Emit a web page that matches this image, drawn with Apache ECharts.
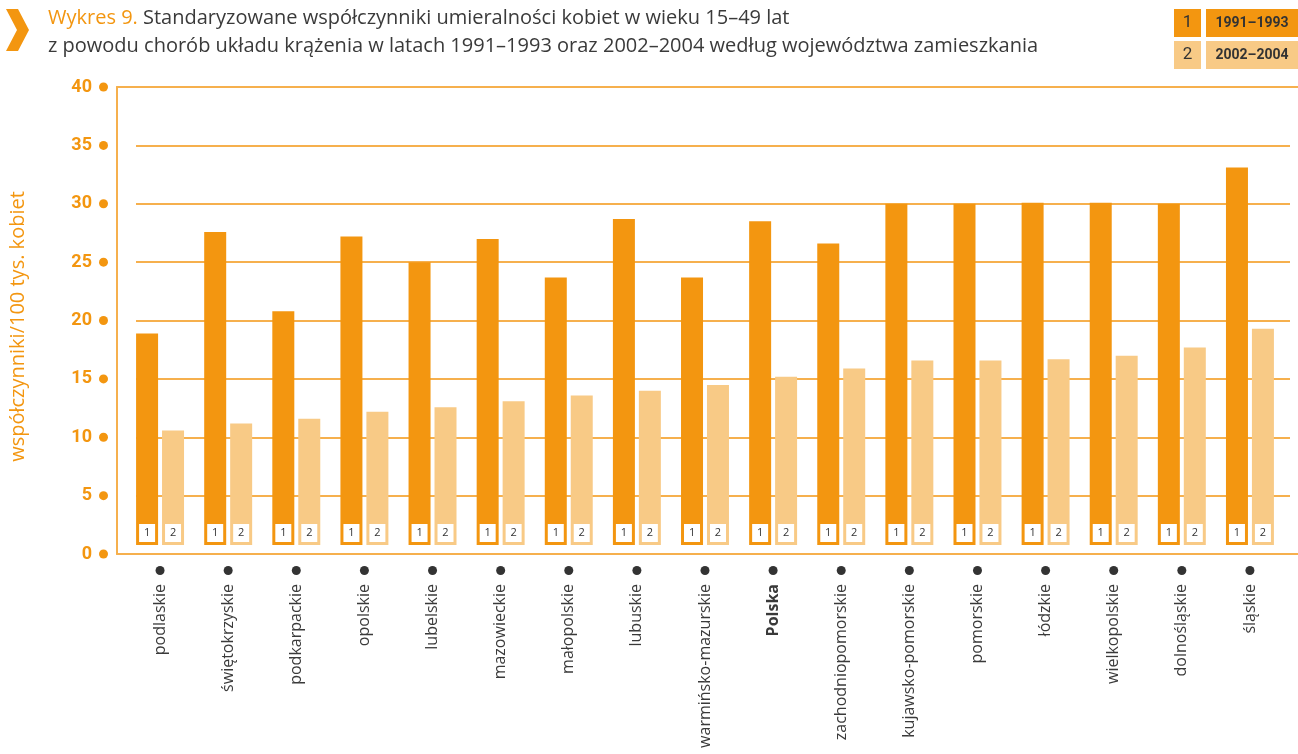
<!DOCTYPE html>
<html>
<head>
<meta charset="utf-8">
<script src="https://cdn.jsdelivr.net/npm/echarts@6/dist/echarts.min.js"></script>
<style>
  html, body { margin: 0; padding: 0; background: #fff; }
  #chart { width: 1298px; height: 754px; }
</style>
</head>
<body>
<div id="chart"></div>
<script>
// dane
const categories = ['podlaskie', 'świętokrzyskie', 'podkarpackie', 'opolskie', 'lubelskie', 'mazowieckie',
    'małopolskie', 'lubuskie', 'warmińsko-mazurskie', 'Polska', 'zachodniopomorskie', 'kujawsko-pomorskie',
    'pomorskie', 'łódzkie', 'wielkopolskie', 'dolnośląskie', 'śląskie'];
const values1991 = [18.9, 27.6, 20.8, 27.2, 25.0, 27.0, 23.7, 28.7, 23.7, 28.5, 26.6, 30.0, 30.0, 30.1, 30.1, 30.0, 33.1];
const values2002 = [10.6, 11.2, 11.6, 12.2, 12.6, 13.1, 13.6, 14.0, 14.5, 15.2, 15.9, 16.6, 16.6, 16.7, 17.0, 17.7, 19.3];
const seriesNames = ['1991–1993', '2002–2004'];
const barTags = ['1', '2'];

const orange = '#f39610';
const lightOrange = '#f8ca86';
const lineOrange = '#f6b04d';
const textDark = '#3a3a3a';

const chart = echarts.init(document.getElementById('chart'));

const tagLabel = (txt) => ({
    show: true,
    position: 'insideBottom',
    distance: 3,
    formatter: txt,
    backgroundColor: '#fff',
    width: 16,
    height: 18,
    lineHeight: 18,
    align: 'center',
    fontSize: 11,
    fontFamily: 'Open Sans',
    color: '#333'
});

const legendRich = {
    a1: { width: 27, height: 28, lineHeight: 28, align: 'center', backgroundColor: orange, color: '#333', fontSize: 17, fontFamily: 'Roboto' },
    b1: { width: 92, height: 28, lineHeight: 28, align: 'center', backgroundColor: orange, color: '#333', fontSize: 14, fontWeight: 'bold', fontFamily: 'Roboto' },
    a2: { width: 27, height: 28, lineHeight: 28, align: 'center', backgroundColor: lightOrange, color: '#333', fontSize: 17, fontFamily: 'Roboto' },
    b2: { width: 92, height: 28, lineHeight: 28, align: 'center', backgroundColor: lightOrange, color: '#333', fontSize: 14, fontWeight: 'bold', fontFamily: 'Roboto' },
    s: { width: 5, height: 28 }
};

const option = {
    animation: false,
    title: {
        left: 48,
        top: 4,
        padding: 0,
        text: '{o|Wykres 9.} Standaryzowane współczynniki umieralności kobiet w wieku 15–49 lat\n' +
            'z powodu chorób układu krążenia w latach 1991–1993 oraz 2002–2004 według województwa zamieszkania',
        textStyle: {
            fontFamily: 'Open Sans',
            fontSize: 20,
            fontWeight: 'normal',
            color: textDark,
            lineHeight: 28,
            rich: {
                o: { fontFamily: 'Open Sans', fontSize: 20, color: orange, lineHeight: 28 }
            }
        }
    },
    graphic: [
        {
            type: 'polygon',
            shape: { points: [[6, 9], [18, 9], [29, 30], [18, 51], [6, 51], [17, 30]] },
            style: { fill: orange }
        }
    ],
    legend: {
        orient: 'vertical',
        right: 0,
        top: 9,
        padding: 0,
        itemGap: 4,
        itemWidth: 0,
        itemHeight: 0,
        icon: 'rect',
        selectedMode: false,
        data: seriesNames,
        formatter: (name) => name === seriesNames[0]
            ? '{a1|' + barTags[0] + '}{s|}{b1|' + name + '}'
            : '{a2|' + barTags[1] + '}{s|}{b2|' + name + '}',
        textStyle: { rich: legendRich }
    },
    grid: [
        { left: 117, right: 0, top: 87, bottom: 200 },   // ramka
        { left: 136, right: 8, top: 87, bottom: 200 },   // linie siatki
        { left: 126, right: 14, top: 87, bottom: 209 }   // słupki
    ],
    xAxis: [
        {
            gridIndex: 0, type: 'value', min: 0, max: 1, position: 'bottom',
            axisLine: { show: true, lineStyle: { color: lineOrange, width: 2 } },
            axisTick: { show: false }, axisLabel: { show: false }, splitLine: { show: false }
        },
        {
            gridIndex: 0, type: 'value', min: 0, max: 1, position: 'top',
            axisLine: { show: true, lineStyle: { color: lineOrange, width: 2 } },
            axisTick: { show: false }, axisLabel: { show: false }, splitLine: { show: false }
        },
        { gridIndex: 1, type: 'value', min: 0, max: 1, show: false },
        {
            gridIndex: 2,
            type: 'category',
            data: categories,
            axisLine: { show: false },
            axisTick: { show: false },
            axisLabel: {
                interval: 0,
                rotate: 90,
                margin: 21,
                formatter: (v) => (v === 'Polska' ? '{b|' + v + '}' : '{n|' + v + '}') + '{s|}{d|}',
                rich: {
                    n: { fontFamily: 'Open Sans', fontSize: 16, color: textDark },
                    b: { fontFamily: 'Open Sans', fontSize: 16, fontWeight: 'bold', color: textDark },
                    s: { width: 9 },
                    d: { width: 9, height: 9, borderRadius: 4.5, backgroundColor: '#333' }
                }
            }
        }
    ],
    yAxis: [
        {
            gridIndex: 0,
            type: 'value',
            min: 0,
            max: 40,
            interval: 5,
            axisLine: { show: true, lineStyle: { color: lineOrange, width: 2 } },
            axisTick: { show: false },
            splitLine: { show: false },
            axisLabel: {
                margin: 9,
                formatter: (v) => '{v|' + v + '}{s|}{d|}',
                rich: {
                    v: { fontFamily: 'Roboto', fontWeight: 'bold', fontSize: 18, color: orange },
                    s: { width: 7 },
                    d: { width: 9, height: 9, borderRadius: 4.5, backgroundColor: orange }
                }
            },
            name: 'współczynniki/100 tys. kobiet',
            nameLocation: 'middle',
            nameGap: 89,
            nameTextStyle: { fontFamily: 'Open Sans', fontSize: 20, color: orange, padding: [0, 12, 0, 0] }
        },
        {
            gridIndex: 1,
            type: 'value',
            min: 0,
            max: 40,
            interval: 5,
            axisLine: { show: false },
            axisTick: { show: false },
            axisLabel: { show: false },
            splitLine: { show: true, lineStyle: { color: lineOrange, width: 2 } }
        },
        { gridIndex: 2, type: 'value', min: 0.8, max: 40, show: false, startValue: 0.8 }
    ],
    series: [
        {
            name: seriesNames[0],
            type: 'bar',
            xAxisIndex: 3,
            yAxisIndex: 2,
            data: values1991,
            barWidth: 22,
            barGap: '18%',
            clip: true,
            itemStyle: { color: orange },
            label: tagLabel(barTags[0])
        },
        {
            name: seriesNames[1],
            type: 'bar',
            xAxisIndex: 3,
            yAxisIndex: 2,
            data: values2002,
            barWidth: 22,
            barGap: '18%',
            clip: true,
            itemStyle: { color: lightOrange },
            label: tagLabel(barTags[1])
        }
    ]
};

chart.setOption(option);
</script>
</body>
</html>
